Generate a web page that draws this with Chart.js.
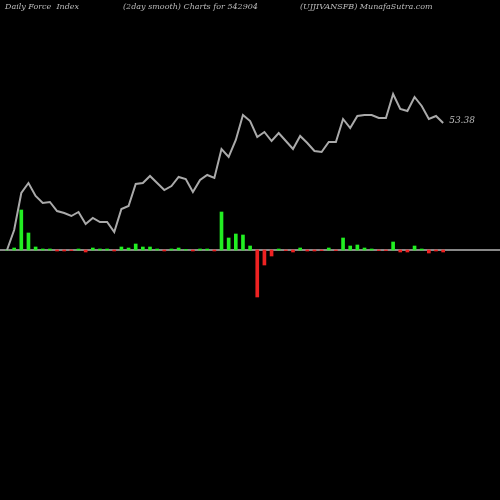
<!DOCTYPE html><html><head><style>html,body{margin:0;background:#000}#w{width:500px;height:500px}</style>
<script src="https://cdn.jsdelivr.net/npm/chart.js"></script></head><body><div id="w"><canvas id="c"></canvas></div><script>
const lineVals=[0,20,57,67,54,47,48,39,37,34,38,26,32,28,28,18,41,44,66,67,74,67,60,64,73,71,58,70,75,72,101,93,110,135,129,113,118,109,117,109,101,114,107,99,98,108,108,131,122,134,135,135,132,132,156,141,139,153,144,131,134,127];
const barVals=[0,2,40,17,3,1,1,-1,-1,-0.5,1,-2,2,1,1,-1,3,2,6,3,3,1,-1,1,2,0.5,-1,1,1,-1,38,12,16,15,4,-47,-15,-6,1,-0.5,-2,2,-1,-1,-0.5,2,-0.5,12,4,5,2,1,-0.5,-0.5,8,-2,-2,4,1,-3,-1,-2];
const lastLabel='53.38';
const idx=lineVals.map((_,i)=>i);
const txt={id:'txt',afterDraw(c){const x=c.ctx;x.save();x.fillStyle='#bbb';x.font='italic 8px "DejaVu Serif",serif';x.textBaseline='middle';
x.fillText('Daily Force  Index',5,7);x.fillText('(2day smooth) Charts for 542904',123,7);x.fillText('(UJJIVANSFB) MunafaSutra.com',300,7);
const xs=c.scales.x,ys=c.scales.y;x.font='italic 9px "DejaVu Serif",serif';x.fillText(lastLabel,xs.getPixelForValue(idx.length-1)+6,ys.getPixelForValue(lineVals[lineVals.length-1])-2);
x.restore();},beforeDatasetsDraw(c){const x=c.ctx,ys=c.scales.y;x.save();x.strokeStyle='#888';x.lineWidth=2;x.beginPath();x.moveTo(0,ys.getPixelForValue(0));x.lineTo(500,ys.getPixelForValue(0));x.stroke();x.restore();}};
new Chart(document.getElementById('c'),{type:'bar',data:{labels:idx,datasets:[
{type:'line',data:lineVals.map((v,i)=>({x:i,y:v})),borderColor:'#aaa',borderWidth:2,pointRadius:0,tension:0,order:0},
{type:'bar',data:barVals.map((v,i)=>({x:i,y:v})),backgroundColor:barVals.map(v=>v>=0?'#22ee22':'#ee2222'),barThickness:3,order:1}]},
options:{animation:false,responsive:true,maintainAspectRatio:false,layout:{padding:0},plugins:{legend:{display:false},tooltip:{enabled:false}},
scales:{x:{type:'linear',min:-0.98,max:68.95,offset:false,bounds:'ticks',display:false},y:{min:-250,max:250,display:false}}},plugins:[txt]});
</script></body></html>
